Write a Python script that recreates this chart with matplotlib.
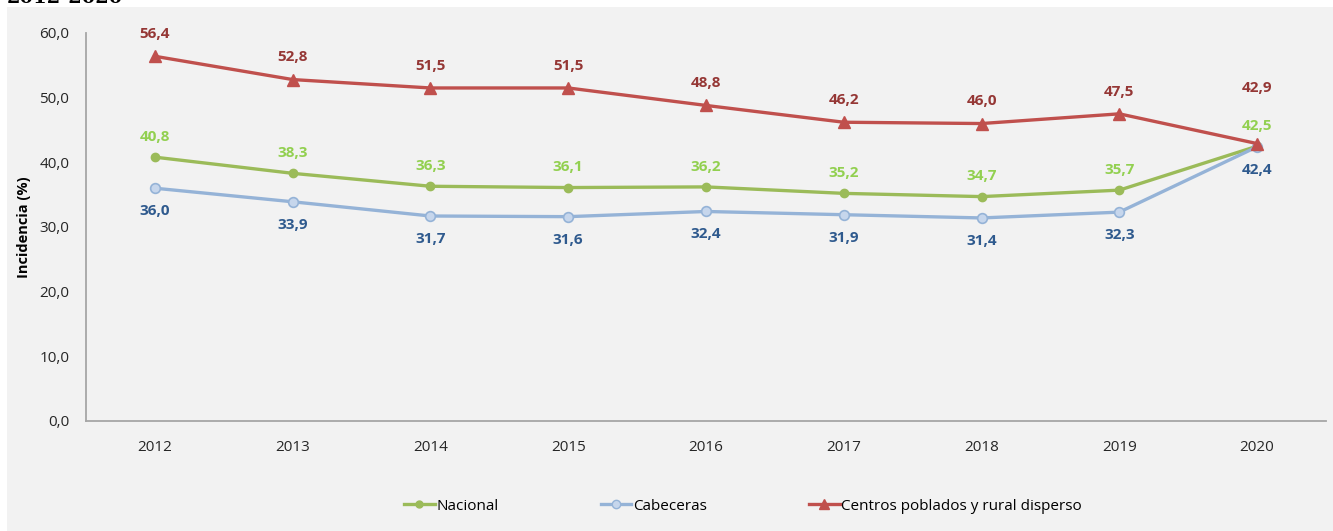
import matplotlib.pyplot as plt
from matplotlib.patches import Rectangle
from matplotlib.lines import Line2D

plt.rcParams['font.family'] = ['Open Sans', 'DejaVu Sans']

#### DATA ####
years = ['2012', '2013', '2014', '2015', '2016', '2017', '2018', '2019', '2020']
nacional = [40.8, 38.3, 36.3, 36.1, 36.2, 35.2, 34.7, 35.7, 42.5]
cabeceras = [36.0, 33.9, 31.7, 31.6, 32.4, 31.9, 31.4, 32.3, 42.4]
centros = [56.4, 52.8, 51.5, 51.5, 48.8, 46.2, 46.0, 47.5, 42.9]
y_ticks = [0, 10, 20, 30, 40, 50, 60]


def fmt(v):
	return '{:.1f}'.format(v).replace('.', ',')


W, H = 1333, 531
fig = plt.figure(figsize=(W / 100, H / 100), dpi=100)
fig.patch.set_facecolor('white')

# grey panel behind everything
fig.patches.append(Rectangle((7 / W, 0), 1 - 7 / W, 1 - 7 / H, transform=fig.transFigure,
	facecolor='#F2F2F2', edgecolor='none', zorder=-10))

# cut-off title at the very top (only its lower edge shows, as in the source)
fig.text(7 / W, 1.0 - 3 / H, '2012-2020', fontsize=14, fontweight='bold', color='black',
	ha='left', va='baseline', family='DejaVu Serif')

ax = fig.add_axes([86 / W, 1 - 421 / H, (1326 - 86) / W, (421 - 33) / H])
ax.set_facecolor('none')

x = list(range(len(years)))

green = '#9BBB59'
blue = '#95B3D7'
red = '#C0504D'

ax.plot(x, nacional, color=green, lw=2.4, marker='o', ms=6, mfc=green, mec=green, zorder=3)
ax.plot(x, cabeceras, color=blue, lw=2.4, marker='o', ms=7, mfc='#C6D6EC', mec=blue, mew=1.2, zorder=3)
ax.plot(x, centros, color=red, lw=2.4, marker='^', ms=8, mfc=red, mec=red, zorder=4)

lab_kw = dict(textcoords='offset points', ha='center', va='center', fontsize=11, fontweight='bold')
for i in x:
	off_r = 40 if i == len(x) - 1 else 16
	ax.annotate(fmt(centros[i]), (i, centros[i]), xytext=(0, off_r), color='#953735', **lab_kw)
	ax.annotate(fmt(nacional[i]), (i, nacional[i]), xytext=(0, 14.5), color='#92D050', **lab_kw)
	ax.annotate(fmt(cabeceras[i]), (i, cabeceras[i]), xytext=(0, -16.5), color='#2F5A8E', **lab_kw)

ax.set_xlim(-0.5, len(years) - 0.5)
ax.set_ylim(0, 60)
ax.set_xticks(x)
ax.set_xticklabels(years)
ax.set_yticks(y_ticks)
ax.set_yticklabels([fmt(v) for v in y_ticks])
ax.tick_params(axis='both', length=0, labelsize=11, colors='#262626')
ax.tick_params(axis='x', pad=14)
ax.tick_params(axis='y', pad=12)

for s in ['top', 'right']:
	ax.spines[s].set_visible(False)
for s in ['left', 'bottom']:
	ax.spines[s].set_color('#A6A6A6')
	ax.spines[s].set_linewidth(1.3)

ax.set_ylabel('Incidencia (%)', fontsize=10.5, fontweight='bold', labelpad=6)

handles = [
	Line2D([], [], color=green, lw=2.4, marker='o', ms=5, mfc=green, mec=green),
	Line2D([], [], color=blue, lw=2.4, marker='o', ms=6, mfc='#C6D6EC', mec=blue),
	Line2D([], [], color=red, lw=2.4, marker='^', ms=7, mfc=red, mec=red),
]
fig.legend(handles, ['Nacional', 'Cabeceras', 'Centros poblados y rural disperso'],
	loc='center', bbox_to_anchor=(743 / W, 1 - 506 / H), ncol=3, frameon=False,
	fontsize=11, handlelength=2.0, handletextpad=0.1, columnspacing=6.7)

fig.savefig('out.png', dpi=100, facecolor=fig.get_facecolor())
